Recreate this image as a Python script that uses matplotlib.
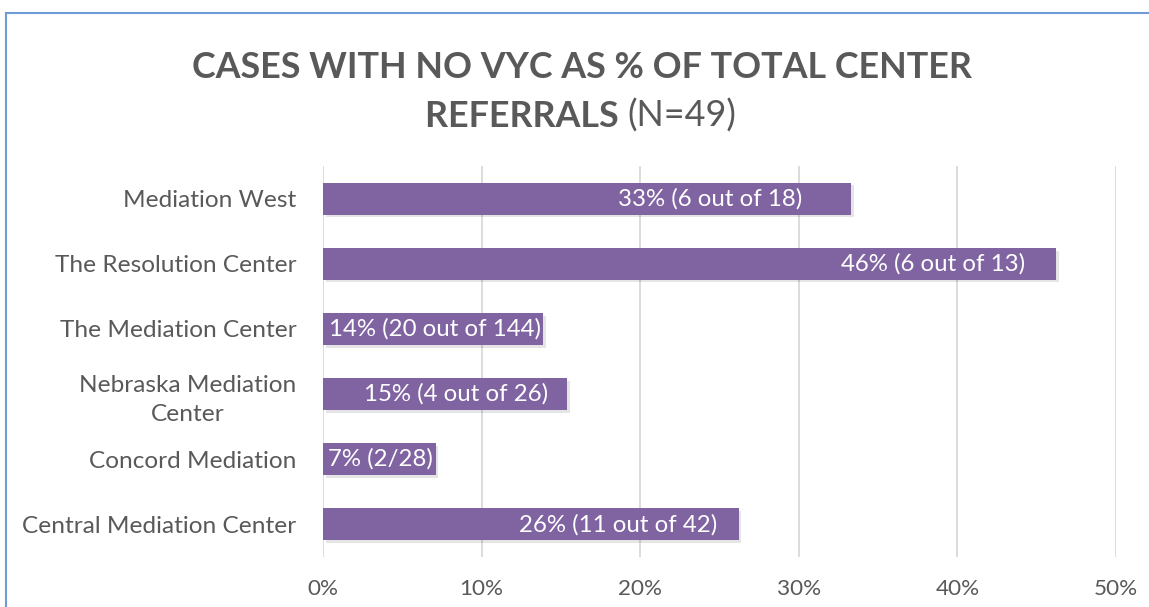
import matplotlib
matplotlib.use("Agg")
import matplotlib.pyplot as plt
import matplotlib.patheffects as pe
from matplotlib.patches import Rectangle

# data (top to bottom as in the chart)
centers = ["Mediation West", "The Resolution Center", "The Mediation Center",
           "Nebraska Mediation\nCenter", "Concord Mediation", "Central Mediation Center"]
pct = [33.3, 46.2, 13.9, 15.4, 7.1, 26.2]
labels = ["33% (6 out of 18)", "46% (6 out of 13)", "14% (20 out of 144)",
          "15% (4 out of 26)", "7% (2/28)", "26% (11 out of 42)"]
xticks = [0, 10, 20, 30, 40, 50]

# label gap from bar end (points), as placed in the original
label_gap = [35, 22, 2, 14, 2, 15]

bar_col = "#8064A2"
txt_col = "#595959"
font = "Lato"

plt.rcParams["font.family"] = [font, "DejaVu Sans"]

fig = plt.figure(figsize=(11.49, 6.07), dpi=100)
ax = fig.add_axes([0.2811, 0.0824, 0.6902, 0.6441])

y = list(range(len(centers)))[::-1]
bars = ax.barh(y, pct, height=0.49, color=bar_col, zorder=3)
for b in bars:
    b.set_path_effects([pe.SimplePatchShadow(offset=(2, -2), shadow_rgbFace="#000000", alpha=0.1),
                        pe.Normal()])

for yi, v, lab, g in zip(y, pct, labels, label_gap):
    ax.annotate(lab, (v, yi), xytext=(-g, 0), textcoords="offset points",
                ha="right", va="center", color="white", fontsize=17.3)

ax.set_xlim(0, 50)
ax.set_ylim(-0.5, len(centers) - 0.5)
ax.set_xticks(xticks)
ax.set_xticklabels([f"{t}%" for t in xticks], fontsize=16.2)
ax.set_yticks(y)
ax.set_yticklabels(centers, multialignment="center", fontsize=17.6, linespacing=1.45)
ax.tick_params(axis="both", length=0, colors=txt_col)
ax.tick_params(axis="y", pad=19)
ax.tick_params(axis="x", pad=16)
ax.grid(axis="x", color="#D9D9D9", linewidth=1.3, zorder=0)
for s in ax.spines.values():
    s.set_visible(False)

# title: bold first line, second line mixes bold and regular
fig.text(0.5065, 1 - 78 / 607, "CASES WITH NO VYC AS % OF TOTAL CENTER",
         ha="center", va="baseline", fontsize=25.8, fontweight="bold", color=txt_col)
t1 = fig.text(0, 1 - 127 / 607, "REFERRALS ", ha="left", va="baseline",
              fontsize=25.8, fontweight="bold", color=txt_col)
t2 = fig.text(0, 1 - 127 / 607, "(N=49)", ha="left", va="baseline",
              fontsize=25.8, color=txt_col)
r = fig.canvas.get_renderer()
w1 = t1.get_window_extent(r).width
w2 = t2.get_window_extent(r).width
x0 = 581 - (w1 + w2) / 2
t1.set_x(x0 / 1149)
t2.set_x((x0 + w1) / 1149)

# chart border (only top and left visible in the crop)
fig.patches.append(Rectangle((6 / 1149, -0.1), 1.2, 1 - 12.5 / 607 + 0.1,
                             transform=fig.transFigure, fill=False,
                             edgecolor="#6F9BD6", linewidth=1.5))

fig.savefig("out.png", dpi=100, facecolor="white")
